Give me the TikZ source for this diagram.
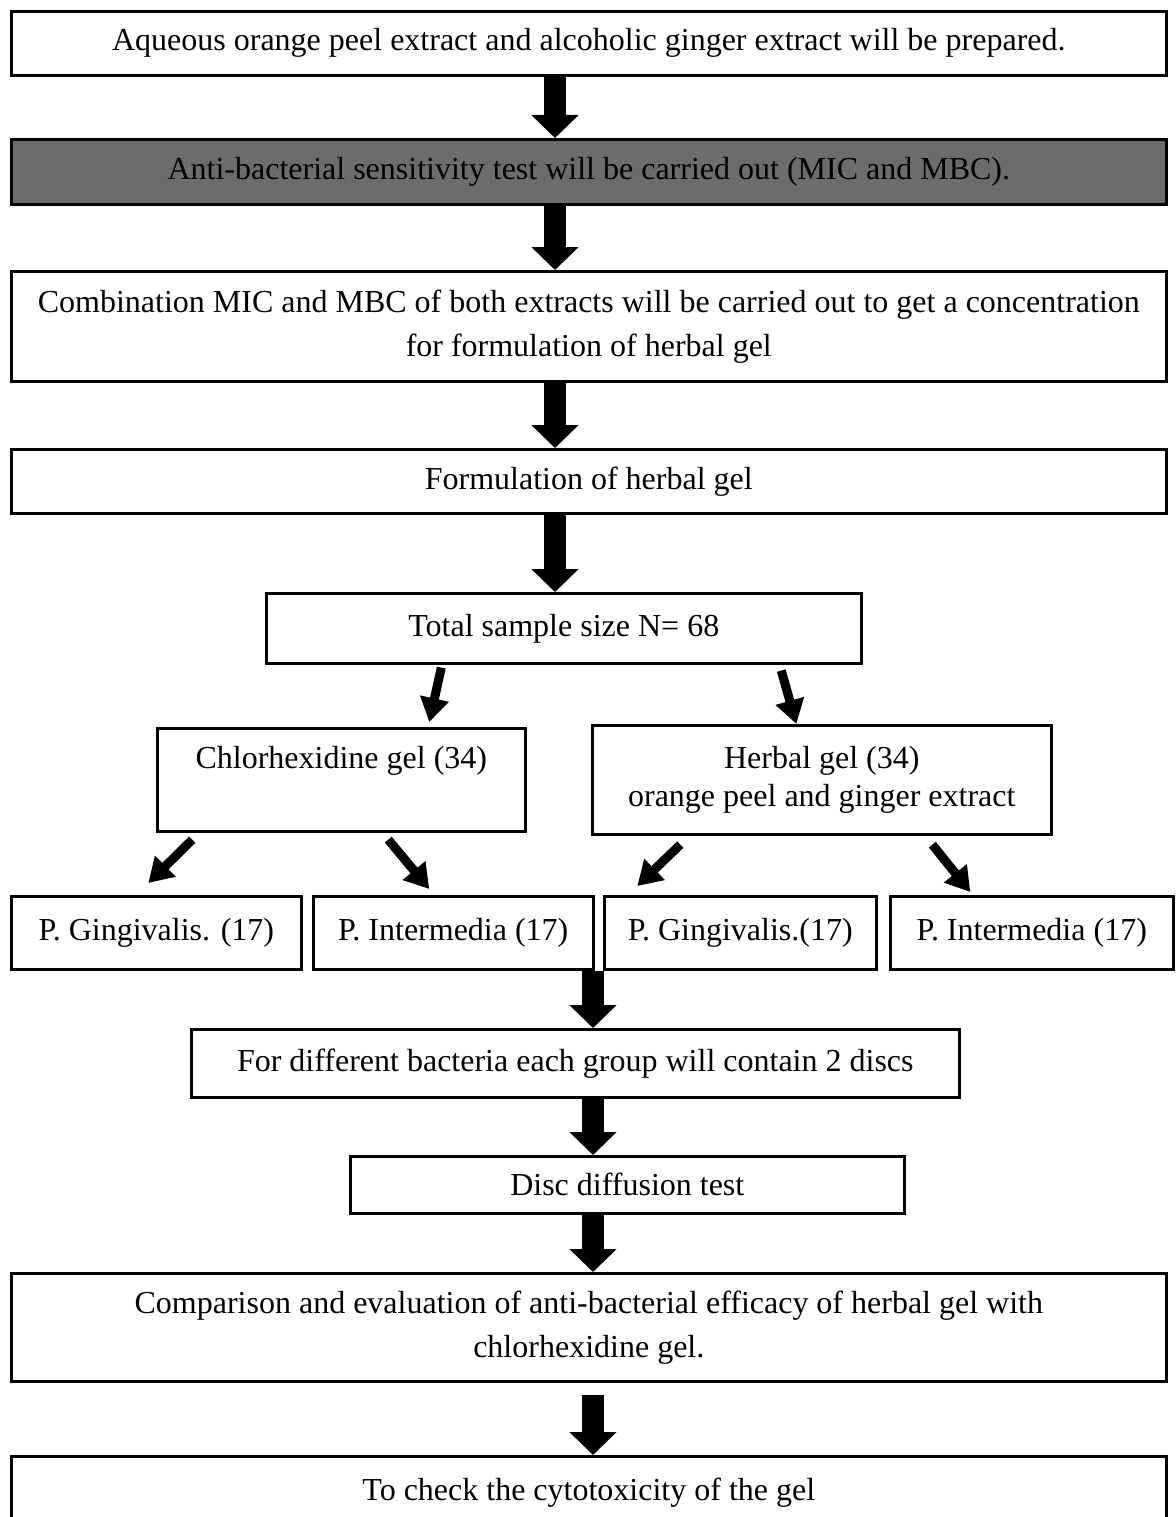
\documentclass[tikz,border=0pt]{standalone}
\usepackage{fontspec}
\setmainfont{Liberation Serif}
\usepackage{tikz}
\usetikzlibrary{arrows.meta, positioning, calc}
\definecolor{shadecolor}{RGB}{108,108,108}

\begin{document}
\begin{tikzpicture}[
    x=1pt, y=-1pt,
    every node/.style={font=\fontsize{32}{44}\selectfont},
    box/.style={draw, line width=2.6pt, anchor=north west, inner sep=0pt, align=center},
    blockarrow/.style={line width=22pt, -{Triangle[width=46pt, length=23pt]}},
    thinarrow/.style={line width=9pt, -{Triangle[width=28pt, length=24pt]}},
]
    \useasboundingbox (0,0) rectangle (1175,1517);

    % Main column
    \node[box, minimum width=1155pt, minimum height=64pt] (extract) at (10,10)
        {Aqueous orange peel extract and alcoholic ginger extract will be prepared.};
    \node[box, fill=shadecolor, minimum width=1155pt, minimum height=65pt] (sensitivity) at (10,138)
        {Anti-bacterial sensitivity test will be carried out (MIC and MBC).};
    \node[box, minimum width=1155pt, minimum height=110pt] (combination) at (10,270)
        {Combination MIC and MBC of both extracts will be carried out to get a concentration\\for formulation of herbal gel};
    \node[box, minimum width=1155pt, minimum height=64pt] (formulation) at (10,448)
        {Formulation of herbal gel};
    \node[box, minimum width=595pt, minimum height=70pt] (total) at (265,592)
        {Total sample size N= 68};

    % Groups
    \node[box, minimum width=368pt, minimum height=103pt] (chx) at (156,727)
        {Chlorhexidine gel (34)\\~};
    \node[box, minimum width=459pt, minimum height=109pt] (herbal) at (591,724)
        {Herbal gel (34)\\[-6pt]orange peel and ginger extract};

    % Bacteria
    \node[box, minimum width=290pt, minimum height=73pt] (pga) at (10,895) {P. Gingivalis. (17)};
    \node[box, minimum width=280pt, minimum height=73pt] (pia) at (312,895) {P. Intermedia (17)};
    \node[box, minimum width=272pt, minimum height=73pt] (pgb) at (603,895) {P. Gingivalis.(17)};
    \node[box, minimum width=283pt, minimum height=73pt] (pib) at (889,895) {P. Intermedia (17)};

    % Lower column
    \node[box, minimum width=768pt, minimum height=68pt] (discs) at (190,1028)
        {For different bacteria each group will contain 2 discs};
    \node[box, minimum width=554pt, minimum height=57pt] (diffusion) at (349,1155)
        {Disc diffusion test};
    \node[box, minimum width=1155pt, minimum height=108pt] (comparison) at (10,1272)
        {Comparison and evaluation of anti-bacterial efficacy of herbal gel with\\chlorhexidine gel.};
    \node[box, minimum width=1155pt, minimum height=110pt] (cytotox) at (10,1455)
        {To check the cytotoxicity of the gel\\~};

    % Block arrows
    \coordinate (upper) at (555,0);
    \coordinate (lower) at (593,0);
    \draw[blockarrow] (extract.south -| upper) -- (sensitivity.north -| upper);
    \draw[blockarrow] (sensitivity.south -| upper) -- (combination.north -| upper);
    \draw[blockarrow] (combination.south -| upper) -- (formulation.north -| upper);
    \draw[blockarrow] (formulation.south -| upper) -- (total.north -| upper);
    \draw[blockarrow] (pia.south -| lower) -- (discs.north -| lower);
    \draw[blockarrow] (discs.south -| lower) -- (diffusion.north -| lower);
    \draw[blockarrow] (diffusion.south -| lower) -- (comparison.north -| lower);
    \draw[blockarrow] ($(comparison.south -| lower)+(0,12)$) -- (cytotox.north -| lower);

    % Split arrows
    \draw[thinarrow] ([xshift=-122.5pt, yshift=-3pt]total.south) -- ([xshift=88pt, yshift=5pt]chx.north);
    \draw[thinarrow] ([xshift=217.5pt, yshift=-6pt]total.south) -- ([xshift=-25.5pt]herbal.north);
    \draw[thinarrow] ([xshift=-149pt, yshift=-7pt]chx.south) -- ([xshift=-8pt, yshift=12pt]pga.north);
    \draw[thinarrow] ([xshift=47pt, yshift=-7pt]chx.south) -- ([xshift=-24pt, yshift=6pt]pia.north);
    \draw[thinarrow] ([xshift=-141.5pt, yshift=-9pt]herbal.south) -- ([xshift=-103pt, yshift=9pt]pgb.north);
    \draw[thinarrow] ([xshift=110.5pt, yshift=-9pt]herbal.south) -- ([xshift=-61.5pt, yshift=3pt]pib.north);
\end{tikzpicture}
\end{document}
